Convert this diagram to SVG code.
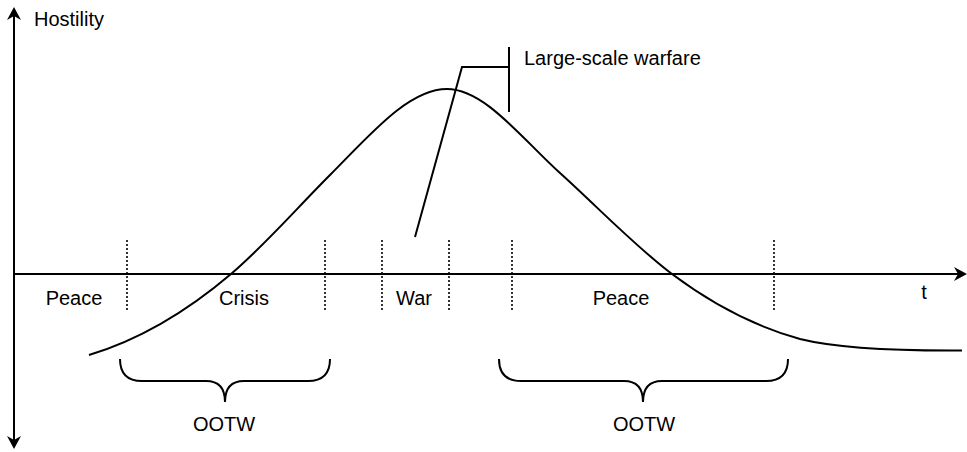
<svg xmlns="http://www.w3.org/2000/svg" width="967" height="452" viewBox="0 0 967 452">
<style>
.ln{fill:none;stroke:#000;stroke-width:2}
.dot{fill:none;stroke:#000;stroke-width:1.6;stroke-dasharray:2 2}
.ah{fill:#000;stroke:none}
text{font-family:"Liberation Sans",Arial,sans-serif;font-size:20px;fill:#000}
.c{text-anchor:middle}
</style>
<rect width="967" height="452" fill="#fff"/>
<g id="axes">
<line class="ln" x1="14" y1="12" x2="14" y2="444"/>
<line class="ln" x1="14" y1="274" x2="962" y2="274"/>
<path class="ah" d="M14,7 L21,20 L14,16 L7,20 Z"/>
<path class="ah" d="M14,449 L21,436 L14,440 L7,436 Z"/>
<path class="ah" d="M967,274 L954,267 L958,274 L954,281 Z"/>
<text x="34" y="26">Hostility</text>
<text x="924" y="299" class="c">t</text>
</g>
<g id="dividers">
<line class="dot" x1="127" y1="240" x2="127" y2="311"/>
<line class="dot" x1="325" y1="240" x2="325" y2="311"/>
<line class="dot" x1="382" y1="240" x2="382" y2="311"/>
<line class="dot" x1="449" y1="240" x2="449" y2="311"/>
<line class="dot" x1="512" y1="240" x2="512" y2="311"/>
<line class="dot" x1="774" y1="240" x2="774" y2="311"/>
</g>
<g id="curve">
<path class="ln" d="M89,355 C136.3,340.8 183.7,314.2 231,274 C264,246 297,208 330,175 C369,136 408,89 447,89 C484.7,89 522.3,139.1 560,173 C597.3,206.6 634.7,246 672,274 C714.7,306 757.3,327.2 800,339 C830,346.5 880,351 962,350.5"/>
</g>
<g id="phase-labels">
<text x="74" y="305" class="c">Peace</text>
<text x="244" y="305" class="c">Crisis</text>
<text x="414" y="305" class="c">War</text>
<text x="621" y="305" class="c">Peace</text>
</g>
<g id="callout">
<path class="ln" d="M415,237 L462,67 L509,67"/>
<line class="ln" x1="509" y1="47" x2="509" y2="112"/>
<text x="524" y="65">Large-scale warfare</text>
</g>
<g id="ootw-left">
<path class="ln" d="M120,359 Q120,381 142,381 H206 Q225,381 225,402 Q225,381 244,381 H308 Q330,381 330,359"/>
<text x="224" y="431" class="c">OOTW</text>
</g>
<g id="ootw-right">
<path class="ln" d="M499,359 Q499,381 521,381 H624 Q643,381 643,402 Q643,381 662,381 H766 Q788,381 788,359"/>
<text x="644" y="431" class="c">OOTW</text>
</g>
</svg>
